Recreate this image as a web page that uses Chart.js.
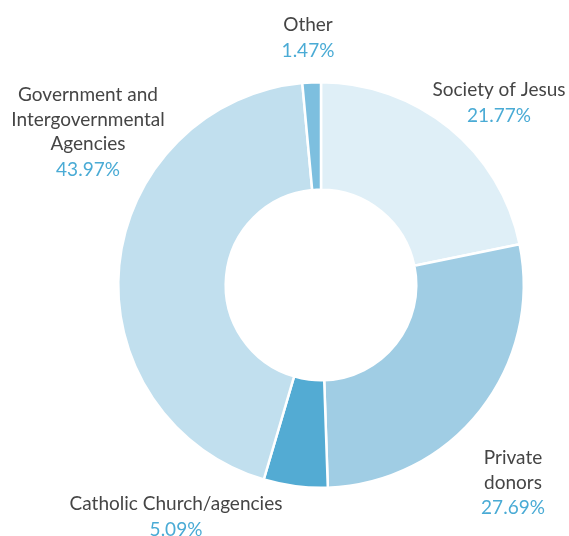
<!DOCTYPE html>
<html>
<head>
<meta charset="utf-8">
<script src="https://cdn.jsdelivr.net/npm/chart.js@4"></script>
<style>
  html, body { margin: 0; padding: 0; background: #fff; }
  #wrap { width: 569px; height: 536px; }
</style>
</head>
<body>
<div id="wrap"><canvas id="chart" width="569" height="536"></canvas></div>
<script>
const categories = ["Society of Jesus", "Private donors", "Catholic Church/agencies", "Government and Intergovernmental Agencies", "Other"];
const shares = [21.77, 27.69, 5.09, 43.97, 1.47];
const sliceColors = ["#dfeff7", "#a0cde4", "#53abd3", "#c1dfee", "#7dbfdf"];
// label text lines, split as in the picture
const labelLines = [["Society of Jesus"], ["Private", "donors"], ["Catholic Church/agencies"], ["Government and", "Intergovernmental", "Agencies"], ["Other"]];
const pctLabels = ["21.77%", "27.69%", "5.09%", "43.97%", "1.47%"];

// where each label block sits relative to the ring centre (dx, dy of first line)
const labelOffsets = [[178, -195], [192, 173], [-145, 219], [-233, -190], [-13, -260]];

const labelPlugin = {
  id: "sliceLabels",
  afterDraw(chart) {
    const ctx = chart.ctx;
    const arc = chart.getDatasetMeta(0).data[0];
    const cx = arc.x, cy = arc.y;
    ctx.save();
    ctx.textAlign = "center";
    ctx.textBaseline = "middle";
    ctx.font = "19px Lato";
    labelLines.forEach((lines, i) => {
      const x = cx + labelOffsets[i][0];
      let y = cy + labelOffsets[i][1];
      ctx.fillStyle = "#454545";
      lines.forEach(t => { ctx.fillText(t, x, y); y += 24.5; });
      ctx.fillStyle = "#4aabd5";
      ctx.fillText(pctLabels[i], x, y + 1);
    });
    ctx.restore();
  }
};

new Chart(document.getElementById("chart"), {
  type: "doughnut",
  data: {
    labels: categories,
    datasets: [{
      data: shares,
      backgroundColor: sliceColors,
      borderColor: "#ffffff",
      borderWidth: 2.5,
      hoverOffset: 0
    }]
  },
  options: {
    responsive: false,
    animation: false,
    cutout: "47%",
    layout: { padding: { left: 117, right: 44, top: 81, bottom: 47 } },
    plugins: {
      legend: { display: false },
      tooltip: { enabled: false }
    }
  },
  plugins: [labelPlugin]
});
</script>
</body>
</html>
